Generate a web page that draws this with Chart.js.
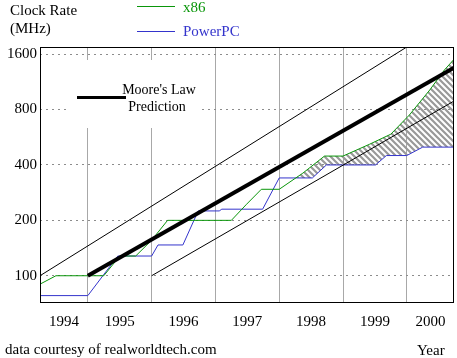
<!DOCTYPE html>
<html><head><meta charset="utf-8">
<script src="https://cdn.jsdelivr.net/npm/chart.js"></script>
<style>html,body{margin:0;padding:0;background:#fff;} canvas{display:block;}</style>
</head><body>
<canvas id="c" width="457" height="358"></canvas>
<script>
// ---- data ----
const yearLabels = ['1994','1995','1996','1997','1998','1999','2000'];
const yTicks = [100, 200, 400, 800, 1600];
const x86X = [1994.25, 1994.5, 1995.25, 1995.5, 1995.75, 1996.0, 1996.25, 1997.25, 1997.48, 1997.72, 1998.0, 1998.37, 1998.71, 1999.0, 1999.42, 1999.75, 2000.04, 2000.36, 2000.59, 2000.74];
const x86Y = [90, 100, 100, 128, 128, 156, 200, 200, 243, 295, 295, 361, 447, 447, 519, 588, 747, 1022, 1313, 1500];
const ppcX = [1994.25, 1995.0, 1995.47, 1996.0, 1996.1, 1996.49, 1996.73, 1997.06, 1997.1, 1997.74, 1998.0, 1998.52, 1998.74, 1999.51, 1999.68, 2000.0, 2000.25, 2000.74];
const ppcY = [78, 78, 128, 128, 147, 147, 225, 225, 230, 230, 340, 340, 400, 400, 450, 450, 500, 500];
const mooreX = [1995.0, 2000.74];
const mooreY = [100, 1350];
const upperX = [1994.25, 2000.0];
const upperY = [100, 1750];
const lowerX = [1996.0, 2000.74];
const lowerY = [100, 890];
const hatchFrom = 1998.0;
const X_MIN = 1994.25, X_MAX = 2000.74, Y_MIN = 72, Y_MAX = 1750;

const SERIF = "'Liberation Serif', 'Times New Roman', serif";
const GREEN = '#0a960a', BLUE = '#3434cc';
const DOTS = [2, 4];

function pts(xs, ys, from) {
  const out = [];
  xs.forEach((x, i) => { if (from === undefined || x >= from) out.push({x: x, y: ys[i]}); });
  return out;
}
function hatchPattern() {
  const c = document.createElement('canvas'); c.width = 6; c.height = 6;
  const g = c.getContext('2d');
  g.strokeStyle = '#999999'; g.lineWidth = 2.2;
  g.beginPath();
  g.moveTo(-1, -1); g.lineTo(7, 7);
  g.moveTo(-1, 5); g.lineTo(1, 7);
  g.moveTo(5, -1); g.lineTo(7, 1);
  g.stroke();
  return g.createPattern(c, 'repeat');
}

// x ticks: boundaries (grid) + centres of visible part of each year (labels)
const firstYear = parseInt(yearLabels[0], 10);
const boundaries = [];
const centres = {};
yearLabels.forEach((lab, i) => {
  const y0 = firstYear + i, y1 = y0 + 1;
  const c = (Math.max(y0, X_MIN) + Math.min(y1, X_MAX)) / 2;
  centres[c.toFixed(4)] = lab;
  if (y0 > X_MIN) boundaries.push(y0);
});

const deco = {
  id: 'deco',
  beforeDatasetsDraw(chart) {
    const ctx = chart.ctx;
    ctx.save();
    ctx.fillStyle = '#fff';
    ctx.fillRect(67, 60, 133, 68);
    ctx.restore();
  },
  afterDatasetsDraw(chart) {
    const ctx = chart.ctx, a = chart.chartArea;
    ctx.save();
    ctx.strokeStyle = '#000'; ctx.lineWidth = 1;
    ctx.strokeRect(Math.round(a.left) + 0.5, Math.round(a.top) + 0.5,
                   Math.round(a.right - a.left) - 1, Math.round(a.bottom - a.top));
    ctx.restore();
  },
  afterDraw(chart) {
    const ctx = chart.ctx;
    ctx.save();
    ctx.textBaseline = 'alphabetic';
    ctx.font = '15px ' + SERIF;
    ctx.fillStyle = '#000';
    ctx.textAlign = 'left';
    ctx.fillText('Clock Rate', 10, 15);
    ctx.fillText('(MHz)', 10, 33);
    ctx.fillText('data courtesy of realworldtech.com', 5, 354);
    ctx.fillText('Year', 417, 355);
    // series legend
    const ds = chart.data.datasets;
    ctx.lineWidth = 1;
    ctx.strokeStyle = GREEN; ctx.beginPath(); ctx.moveTo(137, 6.5); ctx.lineTo(175, 6.5); ctx.stroke();
    ctx.strokeStyle = BLUE; ctx.beginPath(); ctx.moveTo(137, 31.5); ctx.lineTo(175, 31.5); ctx.stroke();
    ctx.fillStyle = GREEN; ctx.fillText(ds[3].label, 183, 12);
    ctx.fillStyle = BLUE; ctx.fillText(ds[4].label, 183, 36);
    // Moore's law legend
    ctx.strokeStyle = '#000'; ctx.lineWidth = 3;
    ctx.beginPath(); ctx.moveTo(77, 97.5); ctx.lineTo(126, 97.5); ctx.stroke();
    ctx.fillStyle = '#000'; ctx.textAlign = 'center';
    ctx.font = '14px ' + SERIF;
    ctx.fillText("Moore's Law", 159, 94);
    ctx.fillText('Prediction', 157, 111);
    ctx.restore();
  }
};

const pattern = hatchPattern();

new Chart(document.getElementById('c'), {
  type: 'line',
  data: {
    datasets: [
      {label: "Moore's Law Prediction", data: pts(mooreX, mooreY), borderColor: '#000', borderWidth: 4, fill: false},
      {label: 'upper', data: pts(upperX, upperY), borderColor: '#000', borderWidth: 1, fill: false},
      {label: 'lower', data: pts(lowerX, lowerY), borderColor: '#000', borderWidth: 1, fill: false},
      {label: 'x86', data: pts(x86X, x86Y), borderColor: GREEN, borderWidth: 1, fill: false},
      {label: 'PowerPC', data: pts(ppcX, ppcY), borderColor: BLUE, borderWidth: 1, fill: false},
      {label: 'gapTop', data: pts(x86X, x86Y, hatchFrom), borderColor: 'rgba(0,0,0,0)', borderWidth: 1,
       fill: {target: 6, above: pattern, below: 'rgba(0,0,0,0)'}},
      {label: 'gapBottom', data: pts(ppcX, ppcY, hatchFrom), borderColor: 'rgba(0,0,0,0)', borderWidth: 1, fill: false}
    ]
  },
  options: {
    responsive: false, animation: false, devicePixelRatio: 1,
    layout: {padding: {left: 0, right: 3, top: 47, bottom: 0}},
    plugins: {legend: {display: false}, tooltip: {enabled: false}, title: {display: false}},
    elements: {point: {radius: 0, hoverRadius: 0}, line: {tension: 0}},
    scales: {
      x: {
        type: 'linear', min: X_MIN, max: X_MAX,
        afterBuildTicks(s) {
          const t = boundaries.map(v => ({value: v}));
          Object.keys(centres).forEach(k => t.push({value: parseFloat(k)}));
          t.sort((a, b) => a.value - b.value);
          s.ticks = t;
        },
        afterFit(s) { s.height = 56; },
        grid: {
          color: (ctx) => (ctx.tick && boundaries.indexOf(ctx.tick.value) >= 0) ? '#a8a8a8' : 'rgba(0,0,0,0)',
          lineWidth: 1, drawTicks: false
        },
        border: {display: false},
        ticks: {
          autoSkip: false, maxRotation: 0, minRotation: 0, padding: 11, color: '#000',
          font: {family: SERIF, size: 15},
          callback: (v) => centres[Number(v).toFixed(4)] || ''
        }
      },
      y: {
        type: 'logarithmic', min: Y_MIN, max: Y_MAX,
        afterBuildTicks(s) { s.ticks = yTicks.map(v => ({value: v})); },
        afterFit(s) { s.width = 40; },
        grid: {color: '#8c8c8c', lineWidth: 1, drawTicks: false},
        border: {display: false, dash: DOTS, dashOffset: 0},
        ticks: {
          padding: 3, color: '#000', font: {family: SERIF, size: 15},
          callback: (v) => String(v)
        }
      }
    }
  },
  plugins: [deco]
});
</script>
</body></html>
